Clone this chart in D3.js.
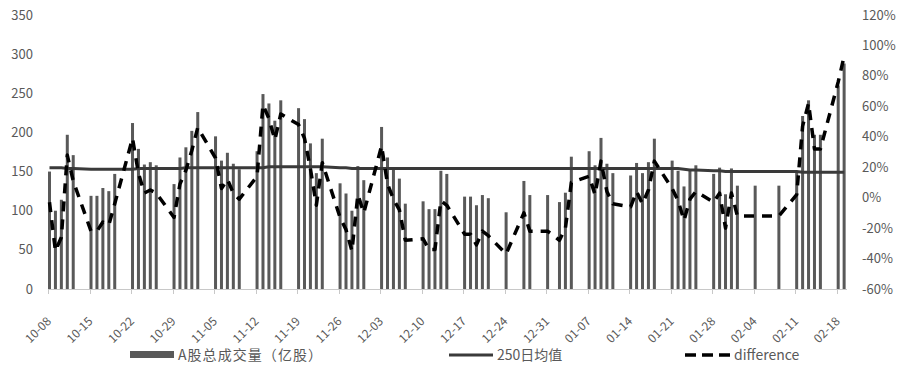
<!DOCTYPE html>
<html>
<head>
  <meta charset="utf-8">
  <script src="https://d3js.org/d3.v7.min.js"></script>
  <style>
    body { margin: 0; background: #fff; }
    text { font-family: "Noto Sans CJK SC", "Noto Sans", sans-serif; fill: #595959; }
  </style>
</head>
<body>
<script>

  // trading days shown on the chart (2018-10 .. 2019-02)
  var dates = [
    "2018-10-08","2018-10-09","2018-10-10","2018-10-11","2018-10-12",
    "2018-10-15","2018-10-16","2018-10-17","2018-10-18","2018-10-19",
    "2018-10-22","2018-10-23","2018-10-24","2018-10-25","2018-10-26",
    "2018-10-29","2018-10-30","2018-10-31","2018-11-01","2018-11-02",
    "2018-11-05","2018-11-06","2018-11-07","2018-11-08","2018-11-09",
    "2018-11-12","2018-11-13","2018-11-14","2018-11-15","2018-11-16",
    "2018-11-19","2018-11-20","2018-11-21","2018-11-22","2018-11-23",
    "2018-11-26","2018-11-27","2018-11-28","2018-11-29","2018-11-30",
    "2018-12-03","2018-12-04","2018-12-05","2018-12-06","2018-12-07",
    "2018-12-10","2018-12-11","2018-12-12","2018-12-13","2018-12-14",
    "2018-12-17","2018-12-18","2018-12-19","2018-12-20","2018-12-21",
    "2018-12-24","2018-12-27","2018-12-28","2018-12-31",
    "2019-01-02","2019-01-03","2019-01-04",
    "2019-01-07","2019-01-08","2019-01-09","2019-01-10","2019-01-11",
    "2019-01-14","2019-01-15","2019-01-16","2019-01-17","2019-01-18",
    "2019-01-21","2019-01-22","2019-01-23","2019-01-24","2019-01-25",
    "2019-01-28","2019-01-29","2019-01-30","2019-01-31","2019-02-01",
    "2019-02-04","2019-02-08",
    "2019-02-11","2019-02-12","2019-02-13","2019-02-14","2019-02-15",
    "2019-02-18","2019-02-19"
  ];

  // A股总成交量（亿股）
  var volume = [
    150, 100, 114, 197, 171,
    119, 119, 129, 125, 147,
    212, 179, 159, 162, 158,
    134, 168, 181, 202, 226,
    195, 164, 174, 160, 153,
    176, 249, 237, 215, 241,
    231, 217, 186, 148, 192,
    135, 122, 100, 157, 139,
    207, 168, 152, 141, 109,
    112, 102, 102, 151, 147,
    118, 118, 107, 120, 116,
    98, 138, 120, 120,
    111, 123, 169,
    176, 158, 193, 160, 148,
    145, 161, 148, 162, 192,
    164, 151, 131, 151, 158,
    147, 155, 121, 154, 132,
    132, 132,
    151, 221, 241, 197, 197,
    260, 288
  ];

  // 250日均值
  var ma250 = [
    155, 155, 155, 154, 154,
    153, 153, 153, 153, 153,
    153, 154, 154, 154, 154,
    154, 154, 155, 155, 155,
    155, 155, 155, 155, 155,
    155, 155, 156, 156, 156,
    156, 156, 156, 156, 156,
    155, 155, 154, 154, 154,
    154, 154, 154, 154, 154,
    154, 154, 154, 154, 154,
    154, 154, 154, 154, 154,
    154, 154, 154, 154,
    154, 154, 154,
    154, 154, 154, 154, 154,
    154, 154, 154, 154, 154,
    154, 154, 153, 152, 152,
    151, 151, 150, 150, 150,
    150, 150,
    150, 149, 149, 149, 149,
    149, 149
  ];

  // difference (%), right axis
  var difference = [
    -3, -35, -26, 28, 11,
    -22, -22, -16, -18, -4,
    39, 16, 3, 5, 3,
    -13, 9, 18, 31, 46,
    26, 6, 12, 3, -1,
    14, 61, 52, 38, 55,
    48, 39, 19, -5, 23,
    -13, -21, -35, 2, -10,
    34, 9, -1, -8, -28,
    -27, -34, -34, -2, -5,
    -24, -24, -31, -22, -25,
    -37, -10, -22, -22,
    -28, -20, 10,
    14, 2, 24, 4, -4,
    -6, 4, -4, 5, 24,
    6, -2, -15, -1, 4,
    -3, 3, -20, 3, -12,
    -12, -12,
    2, 47, 62, 32, 32,
    76, 93
  ];

  var tickLabels = ["10-08","10-15","10-22","10-29","11-05","11-12","11-19","11-26",
                    "12-03","12-10","12-17","12-24","12-31","01-07","01-14","01-21",
                    "01-28","02-04","02-11","02-18"];
  var leftTicks = [0, 50, 100, 150, 200, 250, 300, 350];
  var rightTicks = [-60, -40, -20, 0, 20, 40, 60, 80, 100, 120];

  var width = 900, height = 371;
  var plotLeft = 48, plotRight = 847, plotTop = 15, plotBottom = 289;

  var parse = d3.utcParse("%Y-%m-%d");
  var rows = dates.map(function(d, i) {
    return { date: parse(d), vol: volume[i], ma: ma250[i], diff: difference[i] / 100 };
  });

  var start = parse("2018-10-08"), end = parse("2019-02-20");
  var x = d3.scaleUtc().domain([start, end]).range([plotLeft, plotLeft + 135 * 5.93]);
  var barOffset = 1.5;
  var barWidth = 3;

  var yL = d3.scaleLinear().domain([0, 350]).range([plotBottom, plotTop]);
  var yR = d3.scaleLinear().domain([-0.6, 1.2]).range([plotBottom, plotTop]);

  var svg = d3.select("body").append("svg")
      .attr("width", width)
      .attr("height", height);

  // bars
  svg.append("g").selectAll("rect")
      .data(rows)
      .enter().append("rect")
      .attr("x", function(d) { return x(d.date) + barOffset - barWidth / 2; })
      .attr("y", function(d) { return yL(d.vol); })
      .attr("width", barWidth)
      .attr("height", function(d) { return yL(0) - yL(d.vol); })
      .style("fill", "#595959");

  // x axis line + ticks
  svg.append("line")
      .attr("x1", plotLeft).attr("x2", plotRight)
      .attr("y1", plotBottom + 0.5).attr("y2", plotBottom + 0.5)
      .style("stroke", "#c8c8c8").style("stroke-width", 1);

  var tickDates = tickLabels.map(function(t) {
    var yr = (t.slice(0, 2) >= "10") ? "2018-" : "2019-";
    return { date: parse(yr + t), label: t };
  });

  svg.append("g").selectAll("line")
      .data(tickDates)
      .enter().append("line")
      .attr("x1", function(d) { return Math.round(x(d.date)) + 0.5; })
      .attr("x2", function(d) { return Math.round(x(d.date)) + 0.5; })
      .attr("y1", plotBottom).attr("y2", plotBottom + 5)
      .style("stroke", "#c8c8c8").style("stroke-width", 1);

  svg.append("g").selectAll("text")
      .data(tickDates)
      .enter().append("text")
      .attr("transform", function(d) {
        return "translate(" + (x(d.date) + 1) + "," + 319 + ") rotate(-45)";
      })
      .attr("text-anchor", "end")
      .attr("dy", "0.35em")
      .style("font-size", "12px")
      .text(function(d) { return d.label; });

  // left axis labels
  svg.append("g").selectAll("text")
      .data(leftTicks)
      .enter().append("text")
      .attr("x", 33)
      .attr("y", function(d) { return yL(d); })
      .attr("dy", "0.35em")
      .attr("text-anchor", "end")
      .style("font-size", "13px")
      .text(function(d) { return d; });

  // right axis labels
  svg.append("g").selectAll("text")
      .data(rightTicks)
      .enter().append("text")
      .attr("x", 862)
      .attr("y", function(d) { return yR(d / 100); })
      .attr("dy", "0.35em")
      .attr("text-anchor", "start")
      .style("font-size", "13px")
      .text(function(d) { return d + "%"; });

  // 250 day average
  var maLine = d3.line()
      .x(function(d) { return x(d.date) + barOffset; })
      .y(function(d) { return yL(d.ma); });

  svg.append("path")
      .datum(rows)
      .attr("d", maLine)
      .style("fill", "none")
      .style("stroke", "#3a3a3a")
      .style("stroke-width", 3);

  // difference
  var diffLine = d3.line()
      .x(function(d) { return x(d.date) + barOffset; })
      .y(function(d) { return yR(d.diff); });

  svg.append("path")
      .datum(rows)
      .attr("d", diffLine)
      .style("fill", "none")
      .style("stroke", "#000")
      .style("stroke-width", 3.5)
      .style("stroke-dasharray", "10,8")
      .style("stroke-linejoin", "round");

  // legend
  var legend = svg.append("g");
  legend.append("rect")
      .attr("x", 130).attr("y", 351).attr("width", 44).attr("height", 7)
      .style("fill", "#595959");
  legend.append("text")
      .attr("x", 178).attr("y", 355).attr("dy", "0.35em")
      .attr("textLength", 144)
      .style("font-size", "14px")
      .text("A股总成交量（亿股）");

  legend.append("line")
      .attr("x1", 449).attr("x2", 493).attr("y1", 355).attr("y2", 355)
      .style("stroke", "#3a3a3a").style("stroke-width", 3);
  legend.append("text")
      .attr("x", 497).attr("y", 355).attr("dy", "0.35em")
      .style("font-size", "14px")
      .text("250日均值");

  legend.append("line")
      .attr("x1", 685).attr("x2", 730).attr("y1", 355).attr("y2", 355)
      .style("stroke", "#000").style("stroke-width", 3.5)
      .style("stroke-dasharray", "11,6");
  legend.append("text")
      .attr("x", 734).attr("y", 355).attr("dy", "0.35em")
      .style("font-size", "14px")
      .text("difference");

</script>
</body>
</html>
